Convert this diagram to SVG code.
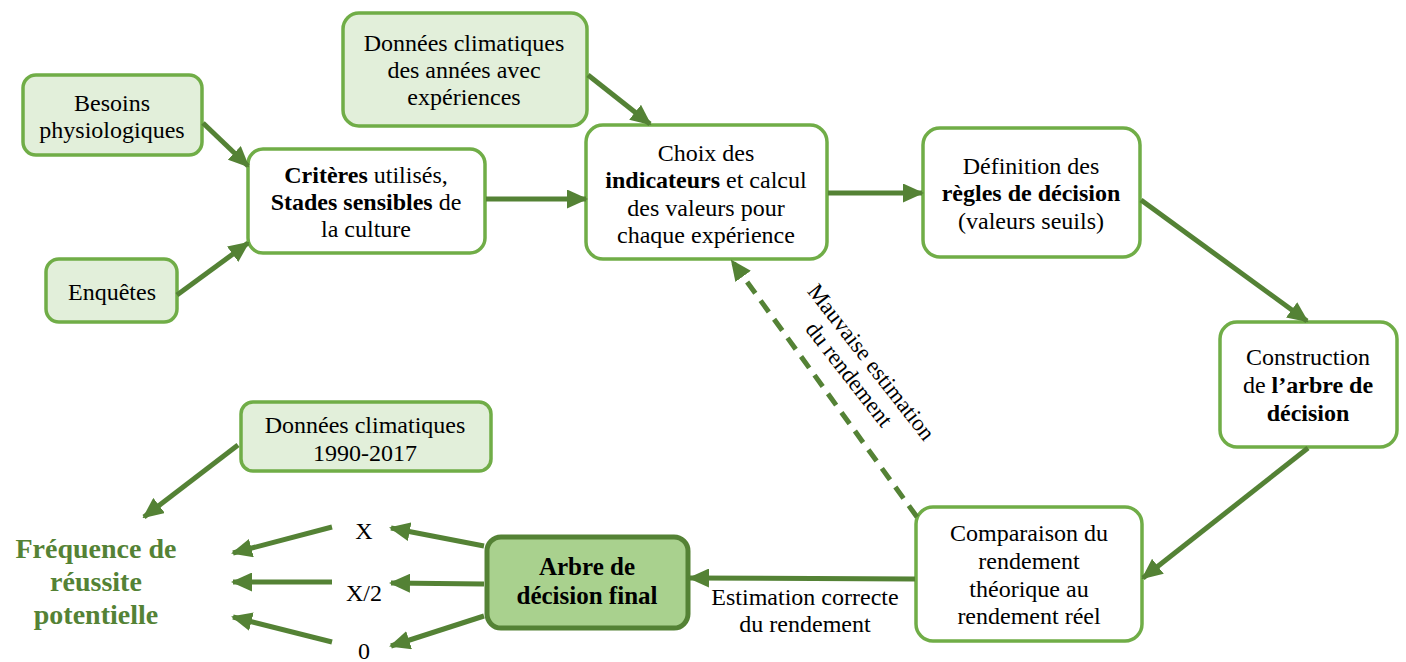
<svg xmlns="http://www.w3.org/2000/svg" width="1406" height="662" viewBox="0 0 1406 662">
<defs>
<marker id="ah" markerUnits="userSpaceOnUse" markerWidth="21" markerHeight="19" refX="19" refY="9.5" orient="auto">
<path d="M0,0 L21,9.5 L0,19 Z" fill="#548235"/>
</marker>
<style>
.box{stroke:#70ad47;stroke-width:3.5;}
.lt{fill:#e2efda;}
.wh{fill:#ffffff;}
text{font-family:'Liberation Serif','Tinos','Noto Serif','DejaVu Serif',serif;font-size:24px;fill:#000;text-anchor:middle;}
.b{font-weight:bold;}
.g{font-size:28px;font-weight:bold;fill:#548235;}
.c{stroke:#548235;stroke-width:5;fill:none;marker-end:url(#ah);}
.d{stroke-dasharray:14,9;}
</style>
</defs>
<rect width="1406" height="662" fill="#fff"/>
<g id="n-besoins"><rect class="box lt" x="23" y="75" width="179" height="80" rx="13"/>
<text x="112" y="111">Besoins</text><text x="112" y="138">physiologiques</text></g>
<g id="n-enquetes"><rect class="box lt" x="46" y="259" width="131" height="63" rx="13"/>
<text x="112" y="300">Enquêtes</text></g>
<g id="n-criteres"><rect class="box wh" x="248" y="149" width="237" height="104" rx="15"/>
<text x="366" y="183"><tspan class="b">Critères</tspan> utilisés,</text>
<text x="366" y="210"><tspan class="b">Stades sensibles</tspan> de</text>
<text x="366" y="237">la culture</text></g>
<g id="n-donnees"><rect class="box lt" x="343" y="13" width="244" height="113" rx="16"/>
<text x="464" y="51">Données climatiques</text><text x="464" y="78">des années avec</text><text x="464" y="105">expériences</text></g>
<g id="n-choix"><rect class="box wh" x="586" y="125" width="241" height="134" rx="17"/>
<text x="706" y="161">Choix des</text>
<text x="706" y="188"><tspan class="b">indicateurs</tspan> et calcul</text>
<text x="706" y="216">des valeurs pour</text>
<text x="706" y="243">chaque expérience</text></g>
<g id="n-definition"><rect class="box wh" x="923" y="128" width="217" height="129" rx="17"/>
<text x="1031" y="174">Définition des</text>
<text class="b" x="1031" y="201">règles de décision</text>
<text x="1031" y="229">(valeurs seuils)</text></g>
<g id="n-construction"><rect class="box wh" x="1220" y="322" width="177" height="125" rx="17"/>
<text x="1308" y="365">Construction</text>
<text x="1308" y="393">de <tspan class="b">l’arbre de</tspan></text>
<text class="b" x="1308" y="421">décision</text></g>
<g id="n-comparaison"><rect class="box wh" x="916" y="507" width="226" height="134" rx="17"/>
<text x="1029" y="541">Comparaison du</text>
<text x="1029" y="569">rendement</text>
<text x="1029" y="597">théorique au</text>
<text x="1029" y="624">rendement réel</text></g>
<g id="n-arbre"><rect x="487" y="537" width="201" height="91" rx="14" fill="#a9d18e" stroke="#548235" stroke-width="5"/>
<text class="b" x="587" y="575" style="font-size:25px">Arbre de</text>
<text class="b" x="587" y="604" style="font-size:25px">décision final</text></g>
<g id="n-donnees1990"><rect class="box lt" x="241" y="402" width="250" height="69" rx="12"/>
<text x="365" y="433">Données climatiques</text><text x="365" y="461">1990-2017</text></g>
<g id="n-frequence">
<text class="g" x="96" y="558">Fréquence de</text>
<text class="g" x="96" y="591">réussite</text>
<text class="g" x="96" y="624">potentielle</text></g>
<g id="n-x"><text x="364" y="539">X</text></g>
<g id="n-x2"><text x="364" y="601">X/2</text></g>
<g id="n-0"><text x="364" y="659">0</text></g>
<g id="connectors">
<line class="c" x1="203" y1="123" x2="248" y2="166"/>
<line class="c" x1="177" y1="295" x2="248" y2="243"/>
<line class="c" x1="486" y1="199" x2="586" y2="199"/>
<line class="c" x1="588" y1="75" x2="650" y2="124"/>
<line class="c" x1="828" y1="193" x2="922" y2="193"/>
<line class="c" x1="1141" y1="200" x2="1307" y2="321"/>
<line class="c" x1="1308" y1="448" x2="1143" y2="578"/>
<line class="c" x1="915" y1="579" x2="690" y2="578"/>
<line class="c d" x1="917" y1="517" x2="732" y2="261"/>
<line class="c" x1="238" y1="445" x2="144" y2="517"/>
<line class="c" x1="484" y1="546" x2="391" y2="528"/>
<line class="c" x1="484" y1="584" x2="391" y2="583"/>
<line class="c" x1="484" y1="616" x2="391" y2="646"/>
<line class="c" x1="332" y1="527" x2="233" y2="553"/>
<line class="c" x1="332" y1="582" x2="233" y2="582"/>
<line class="c" x1="332" y1="642" x2="233" y2="617"/>
<g transform="translate(870,363) rotate(52)">
<text x="0" y="6" style="font-size:23px">Mauvaise estimation</text>
<text x="-4" y="31" style="font-size:23px">du rendement</text></g>
<text x="805" y="605">Estimation correcte</text>
<text x="805" y="632">du rendement</text>
</g>
</svg>
